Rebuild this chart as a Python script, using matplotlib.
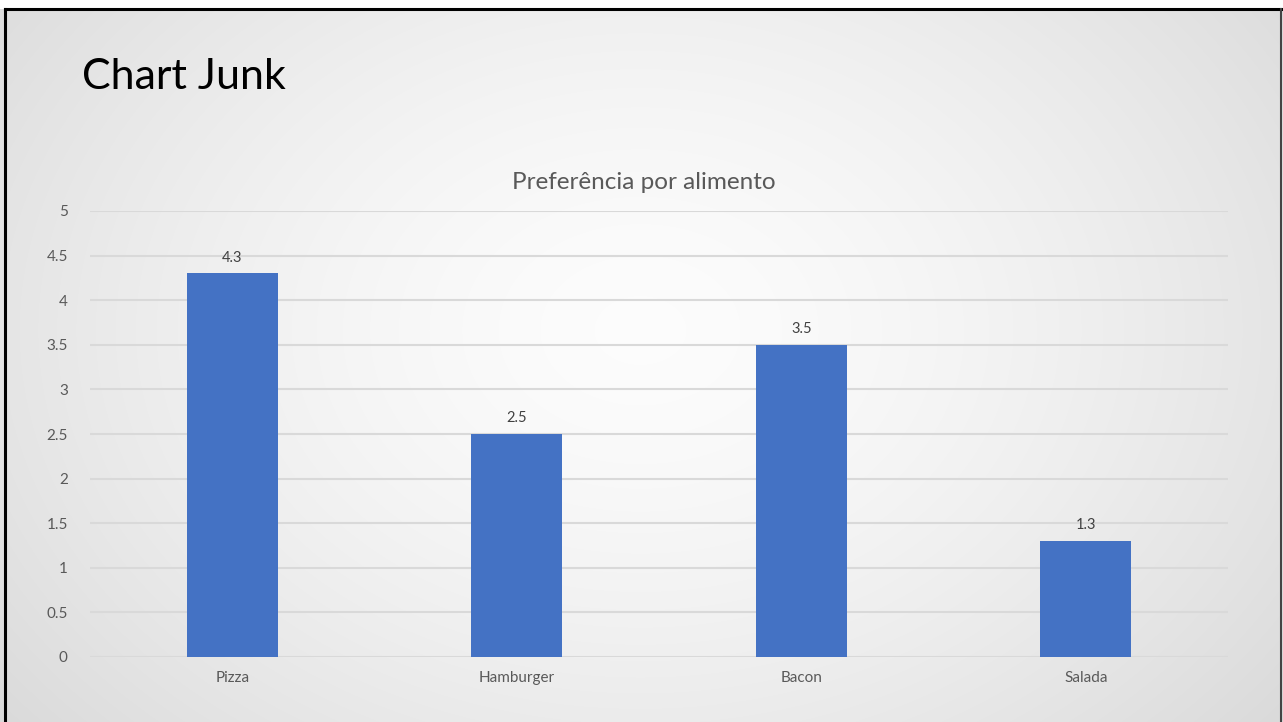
import numpy as np
import matplotlib.pyplot as plt

# food preference scores
foods = ['Pizza', 'Hamburger', 'Bacon', 'Salada']
scores = [4.3, 2.5, 3.5, 1.3]
yticks = [0, 0.5, 1, 1.5, 2, 2.5, 3, 3.5, 4, 4.5, 5]

plt.rcParams['font.family'] = ['Lato', 'DejaVu Sans']

fig = plt.figure(figsize=(12.83, 7.22), dpi=100)
W, H = 1283, 722

# slide background: radial gradient, light in the middle, grey at the edges
bg = fig.add_axes([0, 0, 1, 1])
yy, xx = np.mgrid[0:H, 0:W]
r = np.sqrt(((xx - 640) / 720.0) ** 2 + ((yy - 330) / 540.0) ** 2)
shade = 0.99 - 0.11 * np.clip(r, 0, 1.3) ** 1.5
img = np.dstack([shade, shade, shade])
img[:9, :] = 1.0
bg.imshow(img, extent=[0, W, H, 0], aspect='auto', interpolation='bilinear')
bg.plot([5, 5], [9, H], color='black', lw=2.2)
bg.plot([5, W - 2], [9, 9], color='black', lw=2.2)
bg.plot([W - 2, W - 2], [9, H], color='#444444', lw=1.5)
bg.set_xlim(0, W)
bg.set_ylim(H, 0)
bg.axis('off')

fig.text(82 / W, 1 - 77 / H, 'Chart Junk', fontsize=31, color='black',
         va='center', ha='left')

# bar chart
ax = fig.add_axes([90 / W, 1 - 657 / H, (1228 - 90) / W, (657 - 211) / H])
ax.patch.set_alpha(0)
x = np.arange(len(foods))
bars = ax.bar(x, scores, width=0.32, color='#4472C4', zorder=3)
for xi, v in zip(x, scores):
    ax.text(xi, v + 0.1, f'{v}', ha='center', va='bottom', fontsize=10.5,
            color='#404040')

ax.set_xlim(-0.5, len(foods) - 0.5)
ax.set_ylim(0, 5)
ax.set_yticks(yticks)
ax.set_yticklabels([f'{t:g}' for t in yticks])
ax.set_xticks(x)
ax.set_xticklabels(foods)
ax.tick_params(axis='both', length=0, labelsize=11, colors='#595959')
ax.tick_params(axis='y', pad=16)
ax.tick_params(axis='x', pad=10)
ax.grid(axis='y', color='#d9d9d9', lw=1.5, zorder=0)
for s in ax.spines.values():
    s.set_visible(False)
ax.set_title('Preferência por alimento', fontsize=17.5, color='#595959',
             pad=16, x=0.487)

fig.savefig('out.png', dpi=100)
